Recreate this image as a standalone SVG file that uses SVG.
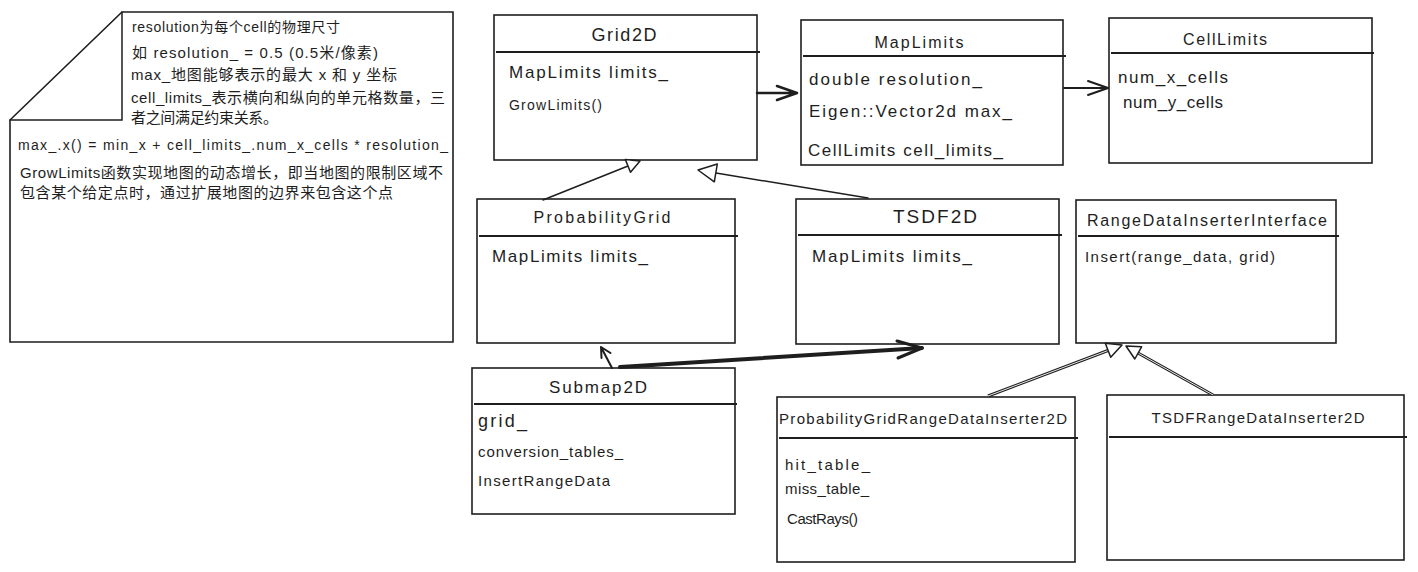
<svg xmlns="http://www.w3.org/2000/svg" width="1418" height="572" viewBox="0 0 1418 572">
<style>
text{font-family:"Liberation Sans","Noto Sans CJK SC",sans-serif;fill:#1e1e1e}
.box{fill:#fff;stroke:#1e1e1e;stroke-width:1.6}
.hdr{stroke:#1e1e1e;stroke-width:2.2;fill:none}
.t{font-size:16px;text-anchor:middle}
.f{font-size:17px}
.s{font-size:15px}
.ln{stroke:#1e1e1e;stroke-width:1.5;fill:none;stroke-linecap:round}
.tri{fill:#fff;stroke:#1e1e1e;stroke-width:1.5;stroke-linejoin:round}
.dbl{stroke:#1e1e1e;stroke-width:3;fill:none}
.dblw{stroke:#fff;stroke-width:0.9;fill:none}
.arr{stroke:#1e1e1e;fill:none;stroke-linecap:round;stroke-linejoin:round}
</style>
<rect width="1418" height="572" fill="#fff"/>
<g id="note">
<path d="M122,12 L453,12 L453,342 L10,342 L10,120 Z" class="box"/>
<path d="M122,12 L122,120 L10,120" class="ln"/>
<text x="132" y="32" font-size="14" textLength="208">resolution为每个cell的物理尺寸</text>
<text x="132" y="58" font-size="15" textLength="246">如 resolution_ = 0.5 (0.5米/像素)</text>
<text x="131" y="80" font-size="15" textLength="266">max_地图能够表示的最大 x 和 y 坐标</text>
<text x="131" y="103" font-size="15" textLength="314">cell_limits_表示横向和纵向的单元格数量，三</text>
<text x="131" y="123" font-size="15" textLength="147">者之间满足约束关系。</text>
<text x="18" y="150" font-size="14" textLength="430">max_.x() = min_x + cell_limits_.num_x_cells * resolution_</text>
<text x="20" y="178" font-size="15" textLength="423">GrowLimits函数实现地图的动态增长，即当地图的限制区域不</text>
<text x="20" y="198" font-size="15" textLength="373">包含某个给定点时，通过扩展地图的边界来包含这个点</text>
</g>
<g id="grid2d">
<rect x="494" y="15" width="263" height="145" class="box"/>
<line x1="496" y1="52" x2="760" y2="52" class="hdr"/>
<text x="624" y="41" class="t" font-size="18" style="font-size:18px" textLength="65">Grid2D</text>
<text x="509" y="78" class="f" textLength="159">MapLimits limits_</text>
<text x="509" y="110" font-size="14" textLength="93">GrowLimits()</text>
</g>
<g id="maplimits">
<rect x="801" y="20" width="262" height="145" class="box"/>
<line x1="803" y1="56" x2="1066" y2="56" class="hdr"/>
<text x="919" y="48" class="t" textLength="89">MapLimits</text>
<text x="809" y="85" class="f" textLength="173">double resolution_</text>
<text x="809" y="117" class="f" textLength="203">Eigen::Vector2d max_</text>
<text x="808" y="156" class="f" textLength="195">CellLimits cell_limits_</text>
</g>
<g id="celllimits">
<rect x="1109" y="18" width="263" height="145" class="box"/>
<line x1="1111" y1="53" x2="1374" y2="53" class="hdr"/>
<text x="1225" y="45" class="t" textLength="84">CellLimits</text>
<text x="1118" y="83" class="f" textLength="110">num_x_cells</text>
<text x="1123" y="108" class="f" textLength="100">num_y_cells</text>
</g>
<g id="probabilitygrid">
<rect x="477" y="199" width="258" height="144" class="box"/>
<line x1="479" y1="236" x2="738" y2="236" class="hdr"/>
<text x="602" y="223" class="t" textLength="137">ProbabilityGrid</text>
<text x="492" y="262" class="f" textLength="156">MapLimits limits_</text>
</g>
<g id="tsdf2d">
<rect x="796" y="199" width="263" height="145" class="box"/>
<line x1="798" y1="235" x2="1062" y2="235" class="hdr"/>
<text x="935" y="223" class="t" style="font-size:19px" textLength="84">TSDF2D</text>
<text x="812" y="262" class="f" textLength="160">MapLimits limits_</text>
</g>
<g id="rangedatainserterinterface">
<rect x="1076" y="200" width="260" height="143" class="box"/>
<line x1="1078" y1="236" x2="1339" y2="236" class="hdr"/>
<text x="1207" y="226" class="t" textLength="240">RangeDataInserterInterface</text>
<text x="1085" y="262" class="s" textLength="190">Insert(range_data, grid)</text>
</g>
<g id="submap2d">
<rect x="472" y="368" width="263" height="146" class="box"/>
<line x1="474" y1="404" x2="737" y2="404" class="hdr"/>
<text x="598" y="393" class="t" style="font-size:17px" textLength="98">Submap2D</text>
<text x="478" y="427" font-size="18" textLength="49">grid_</text>
<text x="478" y="457" class="s" textLength="145">conversion_tables_</text>
<text x="478" y="486" class="s" textLength="132">InsertRangeData</text>
</g>
<g id="probabilitygridrangedatainserter2d">
<rect x="777" y="397" width="298" height="165" class="box"/>
<line x1="779" y1="438" x2="1078" y2="438" class="hdr"/>
<text x="779" y="424" font-size="15" textLength="288">ProbabilityGridRangeDataInserter2D</text>
<text x="785" y="470" class="s" textLength="85">hit_table_</text>
<text x="785" y="494" class="s" textLength="84">miss_table_</text>
<text x="787" y="524" class="s" textLength="71">CastRays()</text>
</g>
<g id="tsdfrangedatainserter2d">
<rect x="1107" y="395" width="297" height="165" class="box"/>
<line x1="1109" y1="437" x2="1407" y2="437" class="hdr"/>
<text x="1258" y="423" font-size="15" text-anchor="middle" textLength="213">TSDFRangeDataInserter2D</text>
</g>
<g id="connectors">
<path d="M757,93 L797,93 M777,86 L797,93 L777,100" class="arr" stroke-width="2.5"/>
<path d="M1064,88 L1108,88 M1088,81 L1108,88 L1088,95" class="arr" stroke-width="2"/>
<line x1="543" y1="200" x2="628" y2="166" class="ln"/>
<polygon points="640,161 630.5,172.3 625.3,159.4" class="tri"/>
<line x1="868" y1="198" x2="716" y2="173" class="ln"/>
<polygon points="698,170 717.3,164 714.3,181.8" class="tri"/>
<line x1="988" y1="396" x2="1108" y2="350.5" class="dbl"/>
<line x1="988" y1="396" x2="1108" y2="350.5" class="dblw"/>
<polygon points="1122,345 1110.7,357.3 1105.3,343.3" class="tri"/>
<line x1="1213" y1="395" x2="1138" y2="353" class="dbl"/>
<line x1="1213" y1="395" x2="1138" y2="353" class="dblw"/>
<polygon points="1126,346 1141.6,346.8 1134.8,359" class="tri"/>
<path d="M612,368 L601,347 M601.5,358 L601,347 L610.5,353" class="arr" stroke-width="2"/>
<path d="M620,367 L922,348" class="arr" stroke-width="4"/>
<path d="M897,341 L922,348 L898,358" class="arr" stroke-width="3"/>
</g>
</svg>
